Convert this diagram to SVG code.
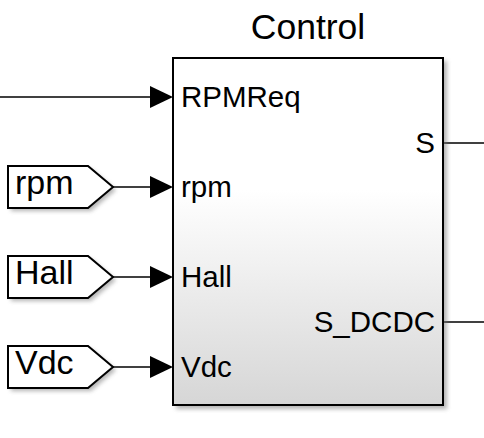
<svg xmlns="http://www.w3.org/2000/svg" width="484" height="438" viewBox="0 0 484 438">
<defs>
<linearGradient id="bg" x1="0" y1="0" x2="0" y2="1">
<stop offset="0" stop-color="#ffffff"/>
<stop offset="0.38" stop-color="#ffffff"/>
<stop offset="1" stop-color="#d6d6d6"/>
</linearGradient>
<filter id="sh" x="-10%" y="-10%" width="130%" height="130%">
<feGaussianBlur stdDeviation="2"/>
</filter>
</defs>
<style>
.ln{stroke:#000;stroke-width:1.3;fill:none}
.ah{fill:#000}
.tag{fill:#fff;stroke:#000;stroke-width:2}
.shd{fill:#777;opacity:0.55;filter:url(#sh)}
.t{font-family:"Liberation Sans",Arial,sans-serif;fill:#000}
.tt{font-size:34px}
.pt{font-size:29.5px}
</style>
<g id="connectors">
<line class="ln" x1="0" y1="97" x2="152" y2="97"/>
<polygon class="ah" points="150,86 173,97 150,108"/>
<line class="ln" x1="113" y1="187" x2="152" y2="187"/>
<polygon class="ah" points="150,176 173,187 150,198"/>
<line class="ln" x1="113" y1="277" x2="152" y2="277"/>
<polygon class="ah" points="150,266 173,277 150,288"/>
<line class="ln" x1="113" y1="367" x2="152" y2="367"/>
<polygon class="ah" points="150,356 173,367 150,378"/>
<line class="ln" x1="443" y1="143" x2="484" y2="143"/>
<line class="ln" x1="443" y1="322" x2="484" y2="322"/>
</g>
<g id="control">
<rect class="shd" x="176" y="61" width="271" height="348"/>
<rect x="173" y="58" width="270" height="347" fill="url(#bg)" stroke="#000" stroke-width="2"/>
<text class="t" x="308" y="39" text-anchor="middle" font-size="35.5">Control</text>
<text class="t pt" x="181" y="107">RPMReq</text>
<text class="t pt" x="181" y="197">rpm</text>
<text class="t pt" x="181" y="287">Hall</text>
<text class="t pt" x="181" y="377">Vdc</text>
<text class="t pt" x="435" y="153" text-anchor="end">S</text>
<text class="t pt" x="435" y="332" text-anchor="end">S_DCDC</text>
</g>
<g id="from-rpm">
<polygon class="shd" points="11,169 91,169 116,190 91,211 11,211"/>
<polygon class="tag" points="8,166 88,166 113,187 88,208 8,208"/>
<text class="t tt" x="15" y="194">rpm</text>
</g>
<g id="from-hall">
<polygon class="shd" points="11,259 91,259 116,280 91,301 11,301"/>
<polygon class="tag" points="8,256 88,256 113,277 88,298 8,298"/>
<text class="t tt" x="15" y="284">Hall</text>
</g>
<g id="from-vdc">
<polygon class="shd" points="11,349 91,349 116,370 91,391 11,391"/>
<polygon class="tag" points="8,346 88,346 113,367 88,388 8,388"/>
<text class="t tt" x="15" y="374">Vdc</text>
</g>
</svg>
